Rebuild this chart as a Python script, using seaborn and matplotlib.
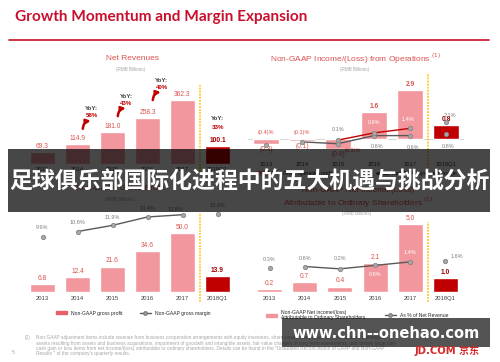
import numpy as np
import matplotlib
matplotlib.use("Agg")
import matplotlib.pyplot as plt
import seaborn as sns
from matplotlib.patches import Rectangle, Patch
from matplotlib.lines import Line2D

W, H = 500, 362

years = ["2013", "2014", "2015", "2016", "2017", "2018Q1"]

# Net revenues (RMB bn) and YoY growth
net_revenues = [69.3, 114.9, 181.0, 258.3, 362.3, 100.1]
yoy_pct = ["58%", "43%", "40%"]          # growth into 2015, 2016, 2017
q1_yoy = "33%"

# Non-GAAP income/(loss) from operations and margins (%)
op_income = [-0.3, -0.1, -0.6, 1.6, 2.9, 0.8]
op_margin = [-0.4, -0.1, -0.3, 0.6, 0.6, 0.8]
op_margin_red = [np.nan, np.nan, 0.1, 0.9, 1.4, 2.1]

# Non-GAAP gross profit and gross margin (%)
gross_profit = [6.8, 12.4, 21.6, 34.6, 50.0, 13.9]
gross_margin = [9.9, 10.8, 11.9, 13.4, 13.8, 13.9]

# Non-GAAP net income and % of net revenue
net_income = [0.2, 0.7, 0.4, 2.1, 5.0, 1.0]
net_margin = [0.3, 0.6, 0.2, 0.8, 1.4, 1.6]

TITLE_RED = "#c8102e"
PINK = "#f2979d"
DARK = "#c00000"
LBL_RED = "#d9534f"
GREY = "#808080"
TICK = "#404040"

sns.set_style("white")
plt.rcParams["font.family"] = ["Liberation Sans", "DejaVu Sans"]

fig = plt.figure(figsize=(5, 3.62), dpi=100)
renderer = fig.canvas.get_renderer()
ppt = 0.72  # points per pixel


def px_box(x0, y0, x1, y1):
    return [x0 / W, 1 - y1 / H, (x1 - x0) / W, (y1 - y0) / H]


def ftext(x, y, s, **kw):
    kw.setdefault("ha", "center")
    kw.setdefault("va", "center")
    return fig.text(x / W, 1 - y / H, s, **kw)


def fit(t, width_px):
    # scale font so the text spans the width seen on the slide
    w = t.get_window_extent(renderer).width
    t.set_fontsize(t.get_fontsize() * width_px / w)


def set_scale(ax, y0, y1, zero, ppu):
    ax.set_ylim(-(y1 - zero) / ppu, (zero - y0) / ppu)


def fmt(v, pct=False):
    s = f"({abs(v):.1f})" if v < 0 else f"{v:.1f}"
    return s + "%" if pct else s


def clean(ax):
    ax.set_yticks([])
    ax.set_xlabel("")
    ax.set_ylabel("")
    for s in ax.spines.values():
        s.set_visible(False)
    ax.patch.set_alpha(0)


def bar_panel(box, values, zero, ppu, pad, bold_pos=False):
    ax = fig.add_axes(px_box(*box))
    sns.barplot(x=years, y=values, hue=years, palette=[PINK] * 5 + [DARK],
                legend=False, width=0.71, saturation=1, ax=ax)
    set_scale(ax, box[1], box[3], zero, ppu)
    ax.set_xlim(-0.5, 5.5)
    ax.axhline(0, color="#d9d9d9", lw=0.8, zorder=0)
    clean(ax)
    ax.tick_params(axis="x", length=0, labelsize=4.2, labelcolor=TICK, pad=pad)
    for i, v in enumerate(values):
        last = i == len(values) - 1
        ax.annotate(fmt(v), (i, v), xytext=(0, 1.5 if v >= 0 else -1.5),
                    textcoords="offset points", ha="center",
                    va="bottom" if v >= 0 else "top", fontsize=4.8,
                    color="#a00000" if last else LBL_RED,
                    weight="bold" if (last or (bold_pos and v > 0)) else "normal")
    return ax


def separator(ax, box, y_top, y_bot):
    h = box[3] - box[1]
    ax.axvline(4.5, ymin=(box[3] - y_bot) / h, ymax=(box[3] - y_top) / h,
               color="#ffc000", lw=1.1, ls=(0, (1.2, 0.8)), clip_on=False)


def margin_line(ax2, vals, color, labels):
    x = np.arange(len(vals))
    ax2.plot(x[1:5], vals[1:5], color=color, lw=1.0, zorder=3)
    ax2.plot(x, vals, ls="none", marker="o", ms=3.2, mfc="#a6a6a6",
             mec="#7f7f7f", mew=0.5, zorder=4)
    for i, v in enumerate(vals):
        if np.isnan(v):
            continue
        dx, dy, c = labels[i]
        ax2.annotate(fmt(v, pct=True), (i, v), xytext=(dx * ppt, dy * ppt),
                     textcoords="offset points", ha="center", va="center",
                     fontsize=4, color=c)


def twin(ax, box, zero, ppu):
    ax2 = ax.twinx()
    set_scale(ax2, box[1], box[3], zero, ppu)
    clean(ax2)
    ax2.set_xlim(-0.5, 5.5)
    return ax2


# ---------------- Net revenues ----------------
b1 = (25, 80, 235, 164)
rev_ppu = 0.177
ax1 = bar_panel(b1, net_revenues, 164, rev_ppu, 2.5)
separator(ax1, b1, 85, 172)
for k, pct in enumerate(yoy_pct):
    j = k + 2
    mid = (net_revenues[j - 1] + net_revenues[j]) / 2
    ax1.annotate("YoY:", (j - 0.6, mid), xytext=(0, 29 * ppt), textcoords="offset points",
                 ha="center", va="center", fontsize=4.4, weight="bold", color=TICK)
    ax1.annotate(pct, (j - 0.6, mid), xytext=(0, 22 * ppt), textcoords="offset points",
                 ha="center", va="center", fontsize=4.4, weight="bold", color=DARK)
    # little red swoosh arrow
    ax1.annotate("", xy=(j - 0.62, mid + 17 / rev_ppu), xytext=(-8 * ppt, -8 * ppt),
                 textcoords="offset points",
                 arrowprops=dict(arrowstyle="-|>", color=DARK, lw=1.8, mutation_scale=6,
                                 connectionstyle="arc3,rad=-0.4", shrinkA=0, shrinkB=0))
ax1.annotate("YoY:", (5, net_revenues[5]), xytext=(0, 28 * ppt), textcoords="offset points",
             ha="center", va="center", fontsize=4.4, weight="bold", color=TICK)
ax1.annotate(q1_yoy, (5, net_revenues[5]), xytext=(0, 19 * ppt), textcoords="offset points",
             ha="center", va="center", fontsize=4.4, weight="bold", color=DARK)

ftext(132, 58, "Net Revenues", fontsize=6, color=LBL_RED)
ftext(131, 69, "(RMB Billions)", fontsize=3.3, color="#a6a6a6")

# ---------------- Operations ----------------
b2 = (248, 80, 464, 159)
ax2 = bar_panel(b2, op_income, 139, 16.9, 2.5, bold_pos=True)
separator(ax2, b2, 73, 168)
t2 = twin(ax2, b2, 141, 9.0)
margin_line(t2, op_margin, "#595959",
            [(0, 12, LBL_RED), (0, 9, LBL_RED), (15, -7, LBL_RED),
             (3, -11, GREY), (3, -12, GREY), (2, -13, GREY)])
margin_line(t2, op_margin_red, DARK,
            [None, None, (0, 11, GREY), (0, 10, "white"), (-2, 9, "white"), (4, 7, GREY)])
ftext(356, 59, "Non-GAAP Income/(Loss) from Operations $^{(1)}$", fontsize=6, color=LBL_RED)
ftext(355, 70, "(RMB Billions)", fontsize=3.3, color="#a6a6a6")
fig.legend([Patch(color=PINK), Line2D([], [], color="#595959", lw=2)],
           ["Non-GAAP operating profit", "Non-GAAP operating margin"],
           loc="center", bbox_to_anchor=(357 / W, 1 - 173 / H), ncol=2, frameon=False,
           fontsize=3.6, handlelength=2.2, handleheight=0.6, columnspacing=9)

# ---------------- Gross profit ----------------
b3 = (25, 205, 235, 292)
ax3 = bar_panel(b3, gross_profit, 292, 1.18, 3.2)
separator(ax3, b3, 213, 302)
t3 = twin(ax3, b3, 292, 5.6)
margin_line(t3, gross_margin, "#595959",
            [(0, 9, GREY), (0, 9, GREY), (0, 8, GREY), (0, 8, GREY), (-7, 5, GREY), (0, 9, GREY)])
ftext(120, 188, "Non-GAAP Gross Profit", fontsize=6, color=LBL_RED)
ftext(120, 199, "(RMB Billions)", fontsize=3.3, color="#a6a6a6")
fig.legend([Patch(color="#e8606a"),
            Line2D([], [], color="#595959", lw=1, marker="o", ms=2.5, mfc="#a6a6a6", mec="#7f7f7f")],
           ["Non-GAAP gross profit", "Non-GAAP gross margin"],
           loc="center", bbox_to_anchor=(133 / W, 1 - 313 / H), ncol=2, frameon=False,
           fontsize=3.6, handlelength=2.2, handleheight=0.6, columnspacing=3.5)

# ---------------- Net income ----------------
b4 = (252, 215, 463, 292)
ax4 = bar_panel(b4, net_income, 292, 13.6, 3.2)
separator(ax4, b4, 222, 302)
t4 = twin(ax4, b4, 270, 5.8)
margin_line(t4, net_margin, "#595959",
            [(0, 9, GREY), (0, 8, GREY), (0, 10, GREY), (0, -9, "white"), (0, 9, "white"), (11, 4, GREY)])
ftext(358, 190, "Non-GAAP Net Income/(Loss)", fontsize=6, color=LBL_RED)
ftext(358, 203, "Attributable to Ordinary Shareholders $^{(1)}$", fontsize=6, color=LBL_RED)
ftext(357, 213, "(RMB Billions)", fontsize=3.3, color="#a6a6a6")
fig.legend([Patch(color=PINK),
            Line2D([], [], color="#595959", lw=1, marker="o", ms=2.5, mfc="#a6a6a6", mec="#7f7f7f")],
           ["Non-GAAP Net income/(loss)\nAttributable to Ordinary Shareholders", "As % of Net Revenue"],
           loc="center", bbox_to_anchor=(357 / W, 1 - 315 / H), ncol=2, frameon=False,
           fontsize=3.6, handlelength=2.2, handleheight=0.6, columnspacing=4)

# ---------------- page furniture ----------------
title = ftext(15, 17, "Growth Momentum and Margin Expansion", ha="left", fontsize=12,
              family="Lato", weight="bold", color=TITLE_RED)
fit(title, 290)
fig.add_artist(Line2D([9 / W, 489 / W], [1 - 40 / H] * 2, color=TITLE_RED, lw=1.2))

notes = [
    "Non-GAAP adjustment items include revenue from business cooperation arrangements with equity investees, share-based compensation, amortization of intangible",
    "assets resulting from assets and business acquisitions, impairment of goodwill and intangible assets, fair value changes of long-term investments, and certain large non-",
    "cash gain or loss items from net income/(loss) attributable to ordinary shareholders. Details can be found in the \"Unaudited Reconciliation of GAAP and Non-GAAP",
    "Results \" of the company's quarterly results.",
]
ftext(25, 338, "(1)", ha="left", fontsize=3.4, color="#a6a6a6")
note_txt = [ftext(36, 338 + k * 5.3, line, ha="left", fontsize=3.4, color="#a6a6a6")
            for k, line in enumerate(notes)]
fit(note_txt[1], 362)
for t in note_txt:
    t.set_fontsize(note_txt[1].get_fontsize())
ftext(12, 352, "5", ha="left", fontsize=3.6, color="#a6a6a6")

# overlay banner and watermark
fig.add_artist(Rectangle((8 / W, 1 - 212 / H), 482 / W, 63 / H, transform=fig.transFigure,
                         facecolor="black", alpha=0.72, lw=0, zorder=10))
cn = ftext(249, 182, "足球俱乐部国际化进程中的五大机遇与挑战分析", fontsize=16.5,
           family=["Noto Sans CJK SC"], weight="bold", color="white", zorder=11)
fit(cn, 480)
fig.add_artist(Rectangle((282 / W, 1 - 347 / H), 208 / W, 29 / H, transform=fig.transFigure,
                         facecolor="black", alpha=0.67, lw=0, zorder=10))
wm = ftext(386, 333, "www.chn--onehao.com", fontsize=10.5, family="DejaVu Sans",
           weight="bold", color="white", zorder=11)
fit(wm, 188)
jd = ftext(447, 351, "JD.COM 京东", fontsize=7.2, family=["DejaVu Sans", "Noto Sans CJK SC"],
           weight="bold", color="#d42a2a", zorder=12)
fit(jd, 65)

fig.savefig("out.png", dpi=100)
